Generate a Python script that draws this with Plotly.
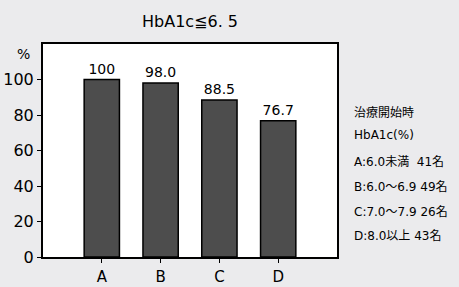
import plotly.graph_objects as go

categories = ["A", "B", "C", "D"]
values = [100, 98.0, 88.5, 76.7]
value_labels = ["100", "98.0", "88.5", "76.7"]
y_ticks = [0, 20, 40, 60, 80, 100]
subtitle = "HbA1c≦6. 5"
legend_lines = ["治療開始時", "HbA1c(%)", "A:6.0未満  41名", "B:6.0～6.9 49名", "C:7.0～7.9 26名", "D:8.0以上 43名"]

FONT = "DejaVu Sans, Noto Sans CJK JP"

fig = go.Figure()
fig.add_trace(go.Bar(
    x=categories, y=values, width=0.6,
    marker=dict(color="#4d4d4d", line=dict(color="black", width=1.5)),
    text=value_labels, textposition="outside", cliponaxis=False,
    textfont=dict(size=14, color="black", family=FONT),
))

fig.update_layout(
    width=459, height=287,
    margin=dict(l=43, r=122, t=44, b=30, autoexpand=False),
    paper_bgcolor="#ebebed", plot_bgcolor="white",
    showlegend=False, bargap=0.4,
    font=dict(family=FONT, color="black"),
    xaxis=dict(type="category", range=[-1, 4], showline=True, linecolor="black", linewidth=2,
               mirror=True, ticks="outside", ticklen=4, tickcolor="black", automargin=False,
               tickfont=dict(size=15), showgrid=False, ticklabelstandoff=1),
    yaxis=dict(range=[0, 120], tickvals=y_ticks, showline=True, linecolor="black", linewidth=2,
               mirror=True, ticks="outside", ticklen=4, tickcolor="black", automargin=False,
               tickfont=dict(size=16), showgrid=False, zeroline=False),
)

fig.add_annotation(text="%", xref="paper", yref="paper", x=-0.065, y=1.0, yshift=0, xanchor="center", yanchor="top",
                   showarrow=False, font=dict(size=14))
fig.add_annotation(text=subtitle, xref="paper", yref="paper", x=0.5, y=1.0, yshift=11, xanchor="center", yanchor="bottom",
                   showarrow=False, font=dict(size=16))

ys = [113, 135, 161, 186, 211, 235]
for line, yp in zip(legend_lines, ys):
    fig.add_annotation(text=line, xref="paper", yref="paper",
                       x=1.0, xshift=15, y=(287 - 30 - yp) / (287 - 74), xanchor="left", yanchor="middle",
                       showarrow=False, font=dict(size=12))

fig.write_html("out.html", config={"displayModeBar": False},
               post_script="document.body.style.margin='0';document.body.style.padding='0';document.body.style.overflow='hidden';")
